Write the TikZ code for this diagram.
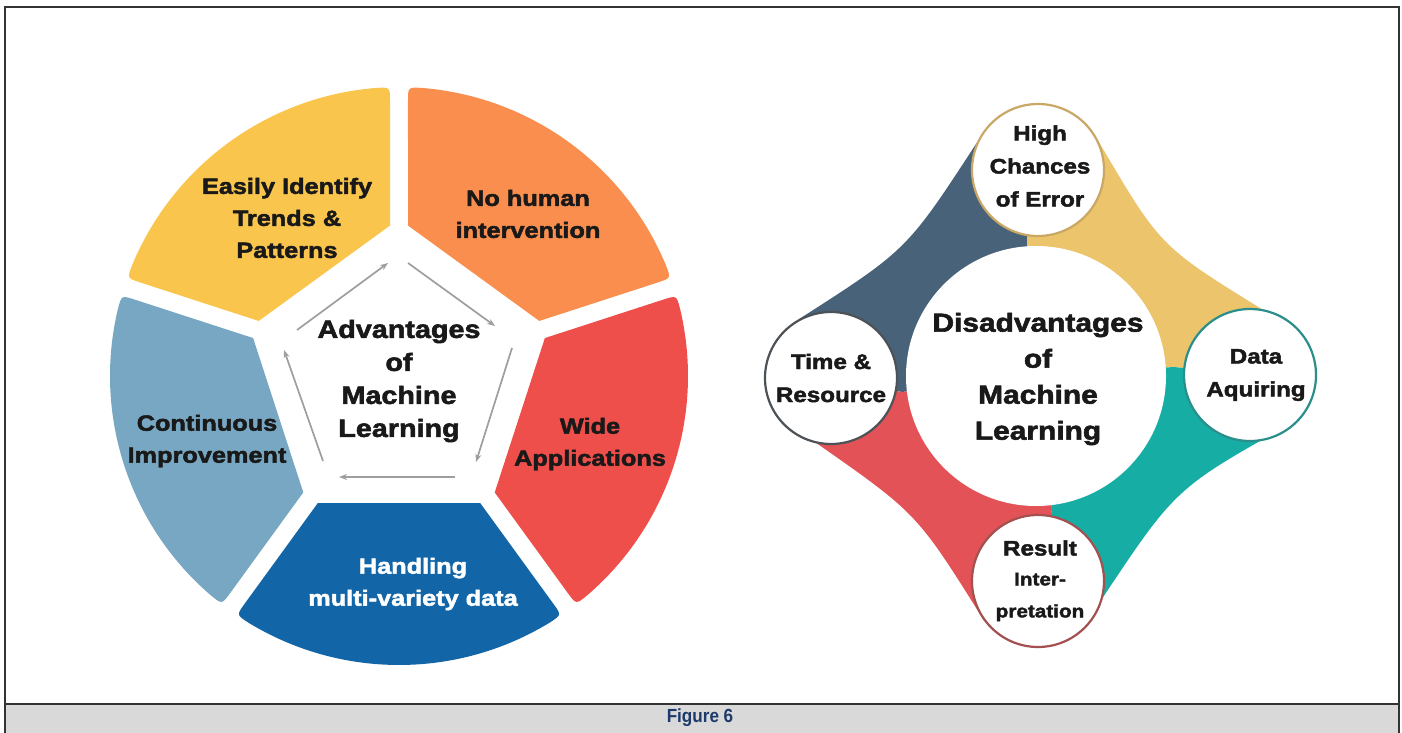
\documentclass[tikz,border=0pt]{standalone}
\usepackage{fontspec}
\setmainfont{Liberation Sans}
\newfontfamily\heavy[FakeStretch=1.15,FakeBold=2.2]{Liberation Sans}
\usetikzlibrary{calc,arrows.meta}
\definecolor{cyel}{HTML}{F9C54D}
\definecolor{cora}{HTML}{F98E4E}
\definecolor{cred}{HTML}{EE4F4B}
\definecolor{cblu}{HTML}{1266A8}
\definecolor{clbl}{HTML}{77A7C2}
\definecolor{ddark}{HTML}{48627A}
\definecolor{dgold}{HTML}{EBC46C}
\definecolor{dteal}{HTML}{16ADA5}
\definecolor{dred}{HTML}{E25256}
\definecolor{otop}{HTML}{C9A865}
\definecolor{orgt}{HTML}{2A8F8B}
\definecolor{olft}{HTML}{4D5257}
\definecolor{obot}{HTML}{A35150}
\definecolor{capgray}{HTML}{D9D9D9}
\definecolor{capblue}{HTML}{1D3A6A}
\newcommand{\advseg}[3]{%
 \pgfmathsetmacro\SgA{#1-36}\pgfmathsetmacro\SgB{#1+36}%
 \pgfmathsetmacro\SgC{#1+54}\pgfmathsetmacro\SgD{#1-54}%
 \pgfmathsetmacro\SgE{\SgA+\pDd}\pgfmathsetmacro\SgF{\SgB-\pDd}%
 \pgfmathsetmacro\SgG{\SgE+\pEe}\pgfmathsetmacro\SgH{\SgF-\pEe}%
 \pgfmathsetmacro\SgI{\SgA+180}\pgfmathsetmacro\SgJ{\SgB+180}%
 \coordinate (#3p1) at ($(AC)+(\SgA:\pTin)+(\SgC:\pHg)$);
 \coordinate (#3q1) at ($(AC)+(\SgE:\pRo)$);
 \coordinate (#3q1a) at ($(#3q1)+(\SgI:\pRc)$);
 \coordinate (#3q1b) at ($(AC)+(\SgG:\pRo)$);
 \coordinate (#3q2) at ($(AC)+(\SgF:\pRo)$);
 \coordinate (#3q2b) at ($(#3q2)+(\SgJ:\pRc)$);
 \coordinate (#3p2) at ($(AC)+(\SgB:\pTin)+(\SgD:\pHg)$);
 \fill[#2] (#3p1) -- (#3q1a) .. controls (#3q1) and (#3q1) .. (#3q1b)
   arc[start angle=\SgG, end angle=\SgH, radius=\pRo]
   .. controls (#3q2) and (#3q2) .. (#3q2b) -- (#3p2) -- cycle;
}
\begin{document}
\begin{tikzpicture}[x=1pt,y=-1pt,
  lbl/.style={font=\heavy\bfseries\fontsize{22}{32}\selectfont, align=center, text=black!90, inner sep=0pt},
  ttl/.style={font=\heavy\bfseries\fontsize{25}{33}\selectfont, align=center, text=black!90, inner sep=0pt},
  dttl/.style={font=\heavy\bfseries\fontsize{26}{36}\selectfont, align=center, text=black!90, inner sep=0pt},
  small/.style={font=\heavy\bfseries\fontsize{21}{33}\selectfont, align=center, text=black!90, inner sep=0pt},
  tiny/.style={font=\heavy\bfseries\fontsize{18}{32}\selectfont, align=center, text=black!90, inner sep=0pt},
  cyc/.style={draw=black!38, line width=1.7pt, -{Stealth[length=8pt,width=6pt]}},
  disc/.style={circle, fill=white, line width=2.2pt, minimum size=132pt, inner sep=0pt},
  frame/.style={draw=black!80, line width=1.6pt}
]
\useasboundingbox (0,0) rectangle (1402,733);
% ---------- frame and caption ----------
\fill[capgray] (5,704) rectangle (1399,735);
\draw[frame] (5,735) -- (5,7) -- (1399,7) -- (1399,735);
\draw[frame] (5,704) -- (1399,704);
\node[font=\bfseries\fontsize{19}{22}\selectfont, text=capblue, inner sep=0pt] (cap) at (700,718) {\scalebox{0.9}[1]{Figure 6}};
% ---------- left: advantages ----------
\coordinate (AC) at (399,376);
\pgfmathsetmacro\pRo{289}
\pgfmathsetmacro\pHg{9}
\pgfmathsetmacro\pAp{127}
\pgfmathsetmacro\pTin{(\pAp-\pHg*sin(36))/cos(36)}
\pgfmathsetmacro\pDd{asin(\pHg/\pRo)}
\pgfmathsetmacro\pRc{14}
\pgfmathsetmacro\pEe{\pRc/\pRo*180/pi}
\advseg{234}{cyel}{sy}
\advseg{-54}{cora}{so}
\advseg{18}{cred}{sr}
\advseg{90}{cblu}{sb}
\advseg{162}{clbl}{sl}
\coordinate (a1s) at (297,330); \coordinate (a1e) at (388,263);
\coordinate (a2s) at (408,263); \coordinate (a2e) at (495,326);
\coordinate (a3s) at (512,348); \coordinate (a3e) at (476,462);
\coordinate (a4s) at (455,477); \coordinate (a4e) at (339,477);
\coordinate (a5s) at (323,461); \coordinate (a5e) at (284,350);
\draw[cyc] (a1s) -- (a1e);
\draw[cyc] (a2s) -- (a2e);
\draw[cyc] (a3s) -- (a3e);
\draw[cyc] (a4s) -- (a4e);
\draw[cyc] (a5s) -- (a5e);
\node[ttl] (adv) at (399,381) {Advantages\\of\\Machine\\Learning};
\node[lbl] (ty) at (287,218) {Easily Identify\\Trends \&\\Patterns};
\node[lbl] (to) at (528,214) {No human\\intervention};
\node[lbl] (tr) at (590,444) {Wide\\Applications};
\node[lbl, text=white] (tb) at (413,584) {Handling\\multi-variety data};
\node[lbl] (tl) at (207,441) {Continuous\\Improvement};
% ---------- right: disadvantages ----------
\coordinate (DC) at (1036,376);
\coordinate (T) at (1038,170);
\coordinate (R) at (1250,375);
\coordinate (B) at (1038,581);
\coordinate (L) at (831,378);
\coordinate (GT) at (1027,240);
\coordinate (GR) at (1174,367);
\coordinate (GB) at (1052,509);
\coordinate (GL) at (902,392);
% attach points
\coordinate (dT) at ($(T)+(204:67)$);  \coordinate (dL) at ($(L)+(241:67)$);
\coordinate (gT) at ($(T)+(335:67)$);  \coordinate (gR) at ($(R)+(280:67)$);
\coordinate (tR) at ($(R)+(40:67)$);   \coordinate (tB) at ($(B)+(14:67)$);
\coordinate (rB) at ($(B)+(143:67)$);  \coordinate (rL) at ($(L)+(102:67)$);
\coordinate (dM) at ($(dT)!0.5!(dL)$); \coordinate (dX) at ($(dM)!27pt!(DC)$);
\coordinate (gM) at ($(gT)!0.5!(gR)$); \coordinate (gX) at ($(gM)!29pt!(DC)$);
\coordinate (tM) at ($(tR)!0.5!(tB)$); \coordinate (tX) at ($(tM)!33pt!(DC)$);
\coordinate (rM) at ($(rB)!0.5!(rL)$); \coordinate (rX) at ($(rM)!25pt!(DC)$);
\fill[ddark] (DC) -- (GL) -- (L) -- (dL) .. controls (dX) .. (dT) -- (T) -- (GT) -- cycle;
\fill[dgold] (DC) -- (GT) -- (T) -- (gT) .. controls (gX) .. (gR) -- (R) -- (GR) -- cycle;
\fill[dteal] (DC) -- (GR) -- (R) -- (tR) .. controls (tX) .. (tB) -- (B) -- (GB) -- cycle;
\fill[dred] (DC) -- (GB) -- (B) -- (rB) .. controls (rX) .. (rL) -- (L) -- (GL) -- cycle;
\node[circle, fill=white, minimum size=260pt, inner sep=0pt] (cBig) at (DC) {};
\node[disc, draw=otop] (cT) at (T) {};
\node[disc, draw=orgt] (cR) at (R) {};
\node[disc, draw=obot] (cB) at (B) {};
\node[disc, draw=olft] (cL) at (L) {};
\node[dttl] (dis) at (1038,379) {Disadvantages\\of\\Machine\\Learning};
\node[small] (lT) at (1040,166) {High\\Chances\\of Error};
\node[small] (lL) at (831,378) {Time \&\\Resource};
\node[small] (lR) at (1256,375) {Data\\Aquiring};
\node[small] (lB1) at (1040,548) {Result};
\node[tiny] (lB2) at (1040,597) {Inter-\\pretation};
\end{tikzpicture}
\end{document}
